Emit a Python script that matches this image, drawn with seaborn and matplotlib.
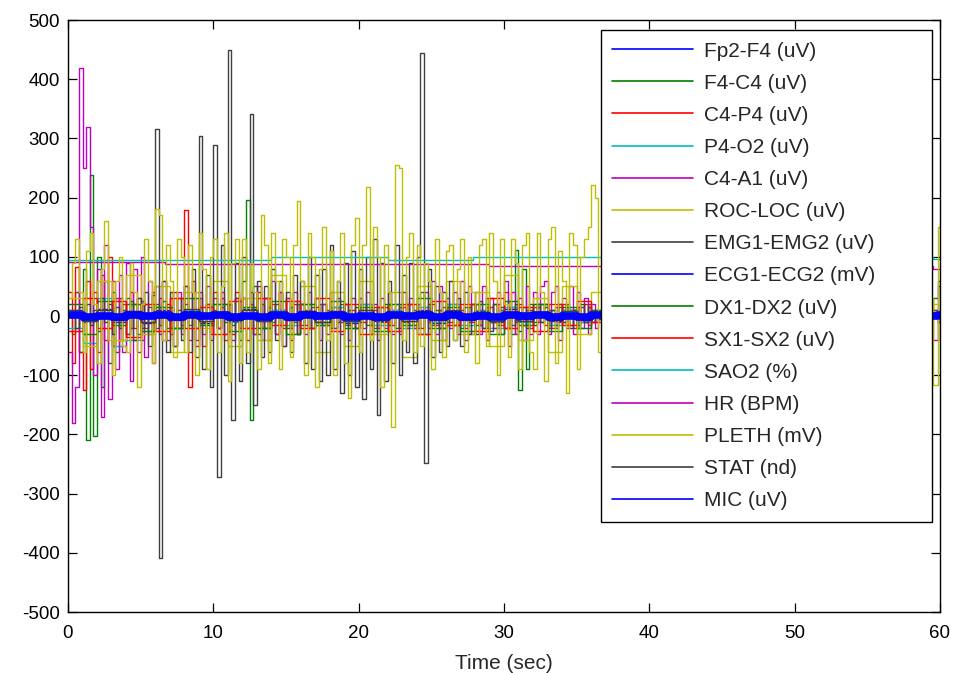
import numpy as np
import pandas as pd

import matplotlib
matplotlib.use("Agg")

import matplotlib.pyplot as plt
import seaborn as sns

# -----------------------------
# Time grids (sec)
# -----------------------------
t_fast = np.arange(0, 37.01, 0.25)   # 149 samples, visible part left of legend
t_slow = np.arange(0, 38, 1.0)       # 38 samples
t_tail = [59.5, 59.85, 60.0]         # small visible strip right of legend

# -----------------------------
# Channel values
# -----------------------------
pleth = [30, 90, 130, 40, -60, 110, 140, 20, -80, 80, 160, -40, -100, 60, 100, -50,
         -60, 90, 40, -120, 20, 130, 60, -80, 180, 170, -40, 120, 60, -70, 130, 100,
         -60, 120, 40, -100, 140, 80, -90, 100, 130, -60, 50, 140, -110, 90, 130, -80,
         130, -60, 90, 40, -90, 170, 120, -80, 140, 60, -90, 130, 100, -70, 120, 195,
         60, -100, 140, 100, -120, 80, 150, -40, 110, -100, 60, 140, -80, -138, 120, 166,
         -60, 120, 218, -40, 150, 100, -120, 120, 40, -187, 255, 250, -40, 100, 140, -60,
         120, -50, 90, 60, -90, 130, 40, -70, 110, 120, -40, 80, 130, -60, 100, 40,
         -80, 120, 130, -50, 140, 60, -100, 130, 20, -70, 130, 90, -90, 120, 140, -60,
         -90, 140, 40, -110, 130, 150, -80, 110, 60, -130, 140, 120, -90, 100, 130, 150,
         221, 200, -60, -70, 30]
pleth_tail = [-117, 150, 150]

emg = [0, 10, -20, 15, -10, 20, -15, 10, -25, 30, -10, 20, -30, 15, -20, 10,
       -30, 25, -40, 30, -20, 40, -50, 35, 316, -409, 60, -60, 40, -50, 30, -40,
       50, -60, 80, -70, 304, -90, 70, -120, 289, -272, 120, -100, 450, -176, 90, -110,
       100, -80, 341, -150, 60, -70, 50, -60, 80, -40, 60, -50, 40, -60, 70, -30,
       60, -80, 100, -90, 70, -110, 80, -100, 120, -90, 60, -130, 90, -100, 110, -120,
       80, -140, 100, -90, 130, -167, 90, -110, 60, -80, 120, -100, 70, -60, 90, -80,
       100, 444, -249, 80, -70, 50, -60, 40, -50, 60, -40, 30, -50, 40, -30, 20,
       -30, 25, -20, 30, -25, 20, -30, 15, -20, 25, -15, 20, -25, 15, -20, 10,
       -15, 20, -10, 15, -20, 10, -15, 20, -10, 15, -20, 10, -15, 20, -10, 15,
       -10, 10, -5, 5, 0]
emg_tail = [10, -10, -10]

c4_a1 = [-60, -180, -120, 419, 250, 320, 150, -100, 80, -170, 120, -140, 60, -90, 70, -60,
         90, -110, 80, -60, 100, -70, 60, -80, 50, -30, 60, -40, 30, -50, 40, -30,
         50, -40, 30, -50, 40, -30, 50, -40, 30, -20, 40, -30, 20, -40, 30, -20,
         30, -20, 40, -30, 50, -40, 30, -20, 60, -30, 40, -50, 30, -20, 40, -30,
         20, -30, 40, -20, 30, -40, 20, -30, 40, -20, 30, -30, 20, -40, 30, -20,
         30, -20, 40, -30, 20, -40, 30, -20, 40, -30, 20, -30, 40, -20, 30, -20,
         20, -30, 40, -20, 60, -30, 50, -40, 30, -20, 40, -30, 60, -40, 50, -30,
         40, -30, 50, -40, 30, -20, 40, -30, 60, -50, 40, -30, 30, -40, 50, -30,
         40, -30, 50, 60, -30, 40, 50, -40, 30, -20, 50, -30, 40, -20, 30, -30,
         20, -20, 10, -10, 0]
c4_a1_tail = [-40, 50, 50]

f4_c4 = [10, -30, 40, -60, 80, -209, 238, -203, 100, -120, 60, -80, 40, -60, 30, -40,
         30, -20, 20, -30, 25, -20, 15, -25, 20, -15, 25, -20, 15, -20, 10, -15,
         20, -15, 10, -20, 15, -10, 20, -15, 10, -20, 15, -10, 20, -15, 30, -40,
         60, 196, -176, 50, -30, 20, -20, 15, -10, 20, -15, 10, -20, 15, -10, 20,
         -15, 10, -20, 15, -10, 20, -15, 10, -20, 15, -10, 20, -15, 10, -20, 15,
         -10, 20, -15, 10, -20, 15, -10, 20, -15, 10, -20, 15, -10, 20, -15, 10,
         -20, 40, -30, 20, -15, 10, -20, 15, -10, 20, -15, 10, -20, 15, -10, 20,
         -15, 10, -20, 15, -10, 20, -15, 10, -20, 15, -30, 111, -125, 80, -90, 20,
         -10, 15, -10, 20, -15, 10, -20, 15, -10, 20, -15, 10, -20, 15, -10, 20,
         -10, 10, -5, 5, 0]
f4_c4_tail = [30, 60, 60]

c4_p4 = [40, -80, 83, -60, -125, 60, -90, 40, -60, 70, -40, 100, -50, 30, -40, 20,
         -30, 40, -20, 30, -40, 20, -30, 40, -20, 30, -40, 20, -30, 40, -20, 30,
         179, -120, 60, -40, 30, -50, 20, -30, 40, -20, 30, -40, 20, -30, 40, -20,
         30, -40, 20, -30, 40, -20, 30, -40, 20, -30, 40, -20, 30, -40, 20, -30,
         20, -15, 10, -20, 15, -10, 20, -15, 10, -20, 15, -10, 20, -15, 10, -20,
         15, -10, 20, -15, 10, -20, 15, -10, 20, -15, 10, -20, 15, -10, 20, -15,
         10, -20, 15, -10, 20, -15, 10, -20, 15, -10, 20, -15, 10, -20, 15, -10,
         20, -15, 10, -20, 15, -10, 20, -15, 40, -20, 15, -10, 20, -15, 10, -20,
         15, -10, 20, -15, 10, -20, 15, -10, 20, -15, 10, -20, 15, -10, 20, -15,
         10, -10, 5, -5, 0]
c4_p4_tail = [10, -10, -10]

roc_loc = [30, -50, 60, -40, 70, -30, 50, -60, 40, -20,
           60, -50, 30, -40, 70, -30, 50, -60, 40, -50,
           60, -30, 40, -70, 50, -40, 60, -30, 40, -50,
           70, -40, 30, -60, 50, -30, 40, 0]
roc_loc_tail = [20, -40, -40]

stat = [5, -8, 10, -6, 8, -10, 6, -5, 12, -9,
        7, -6, 10, -8, 5, -7, 9, -10, 6, -8,
        11, -7, 5, -9, 8, -6, 10, -5, 7, -8,
        6, -9, 5, -6, 8, -5, 6, 0]
dx1_dx2 = [20, -30, 25, -15, 20, -25, 15, -20, 30, -15,
           20, -25, 15, -20, 25, -30, 20, -15, 25, -20,
           15, -25, 20, -15, 30, -20, 15, -25, 20, -30,
           25, -15, 20, -25, 15, -20, 10, 0]
sx1_sx2 = [-25, 30, -20, 25, -35, 20, -25, 30, -20, 15,
           -30, 25, -20, 30, -15, 25, -20, 30, -25, 20,
           -30, 15, -25, 20, -30, 25, -15, 20, -25, 30,
           -20, 15, -25, 20, -15, 25, -10, 0]
p4_o2 = [-20, -45, 30, -50, -40, -25, 15, -20, 10, -15,
         20, -10, 15, -20, 10, -15, 20, -10, 15, -10,
         20, -15, 10, -20, 15, -10, 20, -15, 10, -20,
         15, -10, 20, -15, 10, -10, 5, 0]
fp2_f4 = [10, -8, 12, -10, 8, -12, 10, -6, 9, -11,
          7, -9, 12, -8, 10, -7, 9, -10, 8, -12,
          11, -9, 7, -8, 10, -11, 9, -7, 8, -10,
          12, -9, 7, -8, 10, -6, 5, 0]
ecg = [4, -5, 3, -4, 5, -3, 4, -5, 3, -4,
       5, -3, 4, -5, 3, -4, 5, -3, 4, -5,
       3, -4, 5, -3, 4, -5, 3, -4, 5, -3,
       4, -5, 3, -4, 5, -3, 4, 0]
mic = [1, -1, 0, -1, 1, 0, 1, -1, 1, 0,
       1, -1, 0, -1, 1, -1, 1, 0, 1, -1,
       0, -1, 1, 0, 1, -1, 1, -1, 0, -1,
       1, 0, 1, -1, 0, -1, 1, 0]
small_tail = [0, 5, 5]
mic_tail = [0, 1, 1]

hr_t = [0, 6.7, 29.0, 59.5, 60.0]
hr = [91, 88, 85, 80, 80]
sao2_t = [0, 14.0, 22.0, 27.9, 59.5, 60.0]
sao2 = [95, 99, 95, 99, 96, 96]

# -----------------------------
# Long-form table (MATLAB plot order)
# -----------------------------
def join(t_main, v_main, v_tail):
    return list(t_main) + list(t_tail), list(v_main) + list(v_tail)

series = [
    ("Fp2-F4 (uV)",    "#0000ff", *join(t_slow, fp2_f4, small_tail)),
    ("F4-C4 (uV)",     "#007f00", *join(t_fast, f4_c4, f4_c4_tail)),
    ("C4-P4 (uV)",     "#ff0000", *join(t_fast, c4_p4, c4_p4_tail)),
    ("P4-O2 (uV)",     "#00bfbf", *join(t_slow, p4_o2, small_tail)),
    ("C4-A1 (uV)",     "#bf00bf", *join(t_fast, c4_a1, c4_a1_tail)),
    ("ROC-LOC (uV)",   "#bfbf00", *join(t_slow, roc_loc, roc_loc_tail)),
    ("EMG1-EMG2 (uV)", "#404040", *join(t_fast, emg, emg_tail)),
    ("ECG1-ECG2 (mV)", "#0000ff", *join(t_slow, ecg, small_tail)),
    ("DX1-DX2 (uV)",   "#007f00", *join(t_slow, dx1_dx2, small_tail)),
    ("SX1-SX2 (uV)",   "#ff0000", *join(t_slow, sx1_sx2, small_tail)),
    ("SAO2 (%)",       "#00bfbf", sao2_t, sao2),
    ("HR (BPM)",       "#bf00bf", hr_t, hr),
    ("PLETH (mV)",     "#bfbf00", *join(t_fast, pleth, pleth_tail)),
    ("STAT (nd)",      "#404040", *join(t_slow, stat, small_tail)),
    ("MIC (uV)",       "#0000ff", *join(t_slow, mic, mic_tail)),
]

df = pd.concat(
    [pd.DataFrame({"time": t, "value": v, "channel": name}) for name, _, t, v in series],
    ignore_index=True,
)

# -----------------------------
# Plot
# -----------------------------
sns.set_style("ticks")
plt.rcParams["font.family"] = ["Liberation Sans", "DejaVu Sans"]
plt.rcParams["axes.unicode_minus"] = False

fig = plt.figure(figsize=(9.56, 6.73), dpi=100)
ax = fig.add_axes([0.0711, 0.0906, 0.9121, 0.8796])

for name, color, _, _ in series:
    lw = 1.0
    extra = {}
    if name == "MIC (uV)":
        lw = 5.5
    if name == "ECG1-ECG2 (mV)":
        extra = dict(marker="o", markersize=3.5, markeredgewidth=0)
    sns.lineplot(
        data=df[df["channel"] == name], x="time", y="value",
        color=color, label=name, linewidth=lw, drawstyle="steps-post",
        estimator=None, ax=ax, **extra,
    )

ax.set_xlim(0, 60)
ax.set_ylim(-500, 500)
ax.set_xticks(range(0, 61, 10))
ax.set_yticks(range(-500, 501, 100))
ax.set_xlabel("Time (sec)", fontsize=15, labelpad=9)
ax.set_ylabel("")
ax.tick_params(direction="in", length=6.5, width=0.9, top=True, right=True,
               labelsize=13.5, pad=6, colors="black")
ax.tick_params(axis="x", pad=9)
for sp in ax.spines.values():
    sp.set_visible(True)
    sp.set_linewidth(1.0)
    sp.set_color("black")

leg = ax.legend(
    loc="upper left", bbox_to_anchor=(0.6112, 0.1486, 0.3796, 0.8345),
    mode="expand", fontsize=15, frameon=True, fancybox=False, framealpha=1,
    edgecolor="black", handlelength=3.85, handletextpad=0.53,
    borderpad=0.55, labelspacing=0.63, borderaxespad=0,
)
leg.get_frame().set_linewidth(1.0)
for h in leg.get_lines():
    h.set_linewidth(1.2)
    h.set_marker("")

plt.savefig("out.png", dpi=100)
plt.close()
